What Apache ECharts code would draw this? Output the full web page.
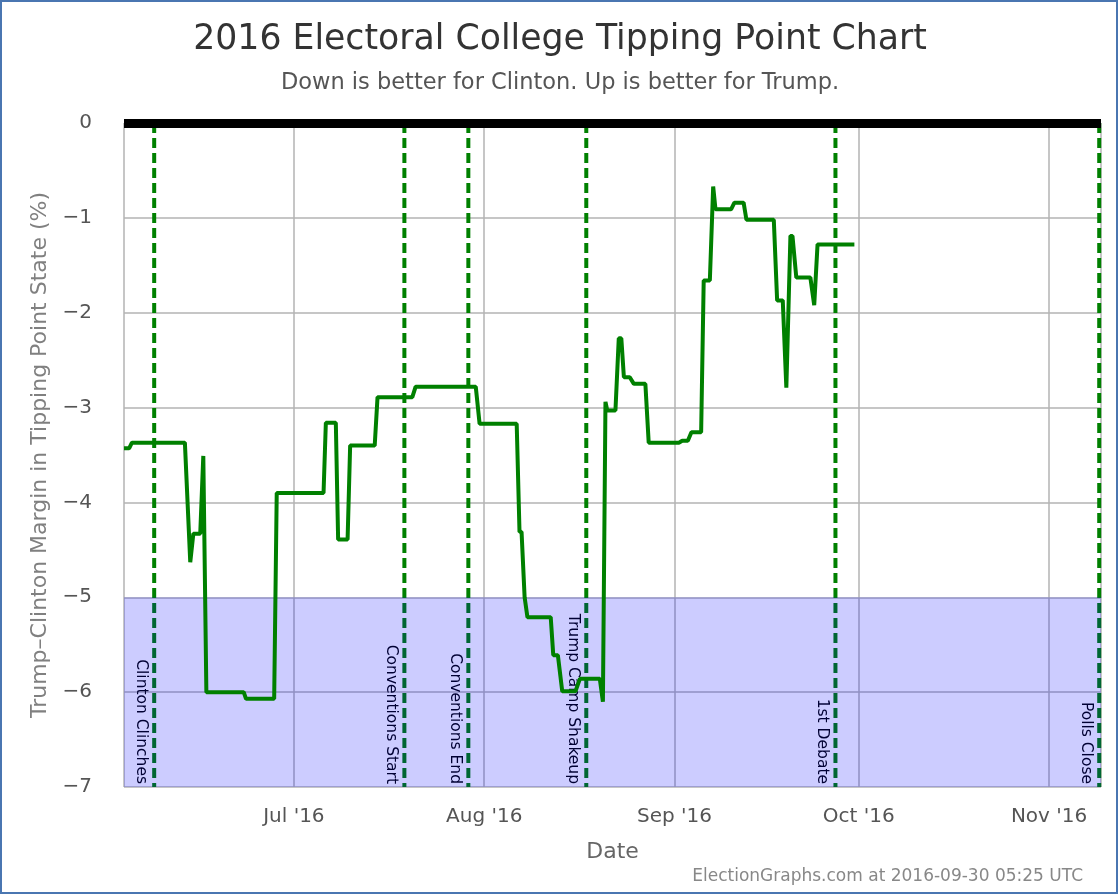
<!DOCTYPE html>
<html>
<head>
<meta charset="utf-8">
<script src="https://cdn.jsdelivr.net/npm/echarts@6/dist/echarts.min.js"></script>
<style>
  html, body { margin: 0; padding: 0; background: #fff; }
  #chart { position: absolute; left: 0; top: 0; width: 1120px; height: 896px; }
  #frame { position: absolute; left: 0; top: 0; width: 1118px; height: 894px; box-sizing: border-box;
           border: 2px solid #4a76b1; pointer-events: none; }
</style>
</head>
<body>
<div id="chart"></div>
<div id="frame"></div>
<script>
// ---- data ----
const dates = [
  '2016-06-03 08:00','2016-06-04 04:00','2016-06-04 15:00','2016-06-13 06:00','2016-06-14 03:00',
  '2016-06-14 15:00','2016-06-15 18:00','2016-06-16 06:00','2016-06-16 18:00','2016-06-22 20:00',
  '2016-06-23 05:00','2016-06-27 19:00','2016-06-28 05:00','2016-07-05 20:00','2016-07-06 05:00',
  '2016-07-07 20:00','2016-07-08 05:00','2016-07-09 18:00','2016-07-10 04:00','2016-07-14 04:00',
  '2016-07-14 15:00','2016-07-20 07:00','2016-07-20 20:00','2016-07-30 15:00','2016-07-31 06:00',
  '2016-08-06 07:00','2016-08-06 18:00','2016-08-07 02:00','2016-08-07 14:00','2016-08-08 01:00',
  '2016-08-11 20:00','2016-08-12 06:00','2016-08-13 00:00','2016-08-13 17:00','2016-08-15 21:00',
  '2016-08-16 14:00','2016-08-19 20:00','2016-08-20 08:00','2016-08-20 18:00','2016-08-21 01:00',
  '2016-08-22 09:00','2016-08-22 22:00','2016-08-23 08:00','2016-08-23 18:00','2016-08-24 17:00',
  '2016-08-25 09:00','2016-08-27 06:00','2016-08-27 19:00','2016-09-01 17:00','2016-09-02 06:00',
  '2016-09-03 04:00','2016-09-03 18:00','2016-09-05 08:00','2016-09-05 18:00','2016-09-06 18:00',
  '2016-09-07 07:00','2016-09-07 16:00','2016-09-10 05:00','2016-09-10 18:00','2016-09-12 06:00',
  '2016-09-12 17:00','2016-09-17 04:00','2016-09-17 17:00','2016-09-18 15:00','2016-09-19 05:00',
  '2016-09-19 21:00','2016-09-20 05:00','2016-09-20 20:00','2016-09-23 03:00','2016-09-23 18:00',
  '2016-09-24 07:00','2016-09-30 07:00'
];
const margins = [
  -3.43, -3.43, -3.37, -3.37, -4.63,
  -4.33, -4.33, -3.51, -6.00, -6.00,
  -6.07, -6.07, -3.90, -3.90, -3.16,
  -3.16, -4.39, -4.39, -3.40, -3.40,
  -2.89, -2.89, -2.78, -2.78, -3.17,
  -3.17, -4.31, -4.31, -5.00, -5.21,
  -5.21, -5.61, -5.61, -5.99, -5.99,
  -5.86, -5.86, -6.10, -2.94, -3.03,
  -3.03, -2.27, -2.27, -2.68, -2.68,
  -2.75, -2.75, -3.37, -3.37, -3.35,
  -3.35, -3.26, -3.26, -1.66, -1.66,
  -0.67, -0.91, -0.91, -0.84, -0.84,
  -1.02, -1.02, -1.87, -1.87, -2.79,
  -1.19, -1.19, -1.63, -1.63, -1.92,
  -1.28, -1.28
];
const eventNames = ['Clinton Clinches', 'Conventions Start', 'Conventions End', 'Trump Camp Shakeup', '1st Debate', 'Polls Close'];
const eventDates = ['2016-06-08 06:00', '2016-07-19 00:00', '2016-07-29 10:00', '2016-08-17 15:00', '2016-09-27 05:00', '2016-11-09 04:00'];
const monthLabels = ['Jan \'16','Feb \'16','Mar \'16','Apr \'16','May \'16','Jun \'16','Jul \'16','Aug \'16','Sep \'16','Oct \'16','Nov \'16','Dec \'16'];
const yTicks = [-7, -6, -5, -4, -3, -2, -1, 0];
const bandTop = -5;
const xRange = ['2016-06-03 08:00', '2016-11-09 11:00'];
const titleText = '2016 Electoral College Tipping Point Chart';
const subtitleText = 'Down is better for Clinton. Up is better for Trump.';
const creditText = 'ElectionGraphs.com at 2016-09-30 05:25 UTC';

// ---- build ----
const ts = s => Date.parse(s.replace(' ', 'T') + ':00Z');
const seriesData = dates.map((d, i) => [ts(d), margins[i]]);
const eventData = eventDates.map(d => [ts(d), yTicks[0]]);
const FONT = 'DejaVu Sans';

const chart = echarts.init(document.getElementById('chart'), null, { renderer: 'canvas' });
chart.setOption({
  useUTC: true,
  animation: false,
  backgroundColor: '#fff',
  textStyle: { fontFamily: FONT },
  title: [
    { text: titleText, left: 'center', top: 17,
      textStyle: { fontFamily: FONT, fontSize: 34.7, fontWeight: 'normal', color: '#333' } },
    { text: subtitleText, left: 'center', top: 67,
      textStyle: { fontFamily: FONT, fontSize: 22.5, fontWeight: 'normal', color: '#555' } },
    { text: creditText, right: 32, bottom: 6,
      textStyle: { fontFamily: FONT, fontSize: 17, fontWeight: 'normal', color: '#888' } }
  ],
  grid: { left: 124, right: 19, top: 123, bottom: 109, containLabel: false },
  xAxis: {
    type: 'time',
    min: ts(xRange[0]), max: ts(xRange[1]),
    minInterval: 28 * 86400000, maxInterval: 31 * 86400000,
    name: 'Date', nameLocation: 'middle', nameGap: 54,
    nameTextStyle: { fontFamily: FONT, fontSize: 22, color: '#666' },
    axisLine: { show: false },
    axisTick: { show: false },
    axisLabel: {
      fontFamily: FONT, fontSize: 20, color: '#555', margin: 20,
      formatter: v => { const d = new Date(v); return d.getUTCDate() === 1 ? monthLabels[d.getUTCMonth()] : ''; }
    },
    splitLine: { show: true, lineStyle: { color: '#b3b3b3', width: 1.5 } }
  },
  yAxis: {
    type: 'value', min: yTicks[0], max: yTicks[yTicks.length - 1], interval: 1,
    name: 'Trump\u2013Clinton Margin in Tipping Point State (%)', nameLocation: 'middle', nameGap: 72,
    nameTextStyle: { fontFamily: FONT, fontSize: 22, color: '#808080' },
    axisLine: { show: false },
    axisTick: { show: false },
    axisLabel: {
      fontFamily: FONT, fontSize: 20, color: '#555', margin: 32,
      formatter: v => v < 0 ? '\u2212' + (-v) : String(v)
    },
    splitLine: { show: true, lineStyle: { color: '#b3b3b3', width: 1.5 } }
  },
  series: [
    {
      type: 'custom', name: 'events', z: 1, clip: false, silent: true,
      data: eventData,
      renderItem: (params, api) => {
        const t = api.value(0);
        const top = api.coord([t, yTicks[yTicks.length - 1]]);
        const bot = api.coord([t, yTicks[0]]);
        return {
          type: 'group',
          children: [
            { type: 'line', shape: { x1: top[0], y1: top[1], x2: bot[0], y2: bot[1] },
              style: { stroke: '#008000', lineWidth: 4, lineDash: [10, 5] } },
            { type: 'text', x: bot[0] - 5, y: bot[1] - 3, rotation: -Math.PI / 2,
              style: { text: eventNames[params.dataIndex], fill: '#000', font: '15.5px "DejaVu Sans"',
                       align: 'right', verticalAlign: 'top' } }
          ]
        };
      }
    },
    {
      type: 'line', name: 'band', z: 2, data: [], silent: true,
      markArea: {
        silent: true, z: 3,
        itemStyle: { color: 'rgba(0,0,255,0.2)' },
        data: [[{ yAxis: yTicks[0] }, { yAxis: bandTop }]]
      }
    },
    {
      type: 'line', name: 'Tipping point margin', z: 4,
      data: seriesData, showSymbol: false, symbol: 'none',
      lineStyle: { color: '#008000', width: 4 },
      itemStyle: { color: '#008000' },
      markLine: {
        silent: true, symbol: 'none', label: { show: false }, z: 6,
        lineStyle: { color: '#000', width: 9, type: 'solid' },
        data: [{ yAxis: 0 }]
      }
    }
  ]
});
</script>
</body>
</html>
